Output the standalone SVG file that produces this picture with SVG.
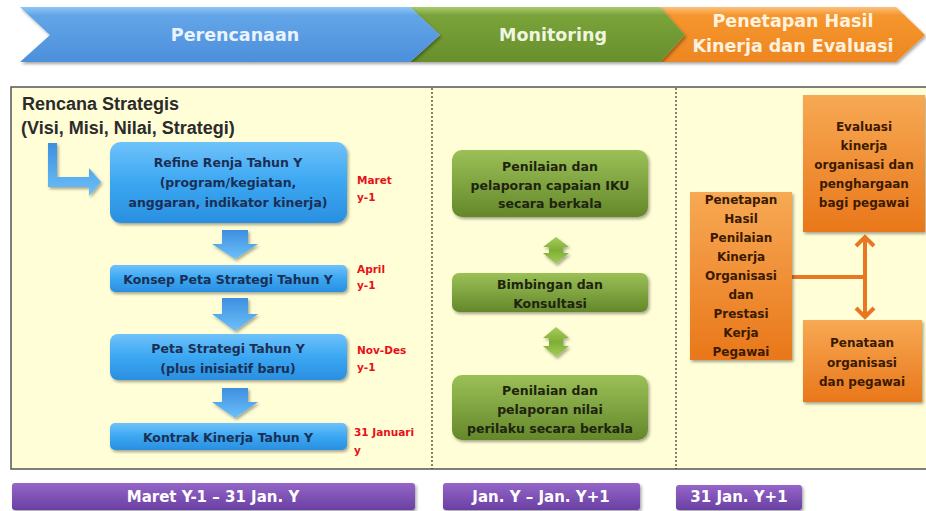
<svg xmlns="http://www.w3.org/2000/svg" width="926" height="511" viewBox="0 0 926 511">
<defs>
<linearGradient id="gBlue" x1="0" y1="0" x2="0" y2="1"><stop offset="0" stop-color="#6FC2FA"/><stop offset="0.5" stop-color="#3BA7F2"/><stop offset="1" stop-color="#2A8FE0"/></linearGradient>
<linearGradient id="gGreen" x1="0" y1="0" x2="0" y2="1"><stop offset="0" stop-color="#9CC057"/><stop offset="1" stop-color="#64882A"/></linearGradient>
<linearGradient id="gOrange" x1="0" y1="0" x2="0" y2="1"><stop offset="0" stop-color="#F7A954"/><stop offset="1" stop-color="#E9771A"/></linearGradient>
<linearGradient id="gPurple" x1="0" y1="0" x2="0" y2="1"><stop offset="0" stop-color="#9466C8"/><stop offset="1" stop-color="#6A3FA3"/></linearGradient>
<linearGradient id="gBanBlue" x1="0" y1="0" x2="0" y2="1"><stop offset="0" stop-color="#8DC6F5"/><stop offset="0.15" stop-color="#62A5E8"/><stop offset="1" stop-color="#4D8FDB"/></linearGradient>
<linearGradient id="gBanGreen" x1="0" y1="0" x2="0" y2="1"><stop offset="0" stop-color="#A9CB6E"/><stop offset="0.15" stop-color="#7AA33A"/><stop offset="1" stop-color="#688F2C"/></linearGradient>
<linearGradient id="gBanOrange" x1="0" y1="0" x2="0" y2="1"><stop offset="0" stop-color="#FBC07A"/><stop offset="0.15" stop-color="#F5962E"/><stop offset="1" stop-color="#EE8620"/></linearGradient>
<linearGradient id="gArrBlue" x1="0" y1="0" x2="0" y2="1"><stop offset="0" stop-color="#3E8FE0"/><stop offset="1" stop-color="#6CC0F8"/></linearGradient>
<linearGradient id="gArrGreen" x1="0" y1="0" x2="0" y2="1"><stop offset="0" stop-color="#A6CC5C"/><stop offset="0.5" stop-color="#7FAE34"/><stop offset="1" stop-color="#A6CC5C"/></linearGradient>
<filter id="sh" x="-10%" y="-10%" width="125%" height="135%"><feDropShadow dx="1.5" dy="2" stdDeviation="1.5" flood-color="#000" flood-opacity="0.35"/></filter>
</defs>
<style>
.t{font-family:"DejaVu Sans",Verdana,sans-serif;font-weight:bold;text-anchor:middle;dominant-baseline:central}
.bt{font-size:12.5px;fill:#1B2F55}
.gt{font-size:12.5px;fill:#1E2410}
.ot{font-size:12px;fill:#3B1A00}
.red{font-family:"DejaVu Sans",Verdana,sans-serif;font-weight:bold;font-size:10.5px;fill:#E8101A;dominant-baseline:central}
.ban{font-size:17.5px}
.pt{font-size:15px;fill:#FFFFFF}
.hd{font-family:"Liberation Sans",Arial,sans-serif;font-weight:bold;font-size:18px;fill:#2B2B2B}
.dash{stroke:#333;stroke-width:1.2;stroke-dasharray:2,2;fill:none}
.ol{stroke:#E87722;stroke-width:4;fill:none}
</style>

<g id="banner">
<path d="M660,7 L896,7 L925,35 L896,62 L660,62 L685,35 Z" fill="url(#gBanOrange)" filter="url(#sh)"/>
<path d="M410,7 L660,7 L685,35 L660,62 L410,62 L440,35 Z" fill="url(#gBanGreen)" filter="url(#sh)"/>
<path d="M20,7 L410,7 L440,35 L410,62 L20,62 L50,35 Z" fill="url(#gBanBlue)" filter="url(#sh)"/>
<text class="t ban" x="235" y="35" fill="#EAF3FF">Perencanaan</text>
<text class="t ban" x="553" y="35" fill="#EEF6E0">Monitoring</text>
<text class="t ban" x="793" y="21" fill="#FFF3E0">Penetapan Hasil</text>
<text class="t ban" x="793" y="46" fill="#FFF3E0">Kinerja dan Evaluasi</text>
</g>

<g id="panel">
<rect x="11" y="87" width="920" height="382" fill="#FFFED6" stroke="#555" stroke-width="1.5"/>
<line class="dash" x1="432" y1="88" x2="432" y2="469"/>
<line class="dash" x1="676" y1="88" x2="676" y2="469"/>
<text class="hd" x="22" y="110">Rencana Strategis</text>
<text class="hd" x="21" y="134" font-size="18.5">(Visi, Misi, Nilai, Strategi)</text>
</g>

<g id="connectors">
<path d="M48,143 H57 V177 H89 V168 L101,182 L89,196 V187 H48 Z" fill="url(#gArrBlue)" filter="url(#sh)"/>
<path d="M222,230 H248 V244 H258 L235,259 L212,244 H222 Z" fill="url(#gArrBlue)" filter="url(#sh)"/>
<path d="M222,298 H248 V314 H258 L235,331 L212,314 H222 Z" fill="url(#gArrBlue)" filter="url(#sh)"/>
<path d="M222,388 H248 V402 H258 L235,418 L212,402 H222 Z" fill="url(#gArrBlue)" filter="url(#sh)"/>
<path d="M556,237 L569,247 H563 V253 H569 L556,264 L543,253 H549 V247 H543 Z" fill="url(#gArrGreen)" filter="url(#sh)"/>
<path d="M556,327 L569,338 H563 V346 H569 L556,357 L543,346 H549 V338 H543 Z" fill="url(#gArrGreen)" filter="url(#sh)"/>
<line class="ol" x1="792" y1="277" x2="865" y2="277"/>
<line class="ol" x1="865" y1="238" x2="865" y2="316"/>
<polyline class="ol" points="856,246 865,237 874,246"/>
<polyline class="ol" points="856,308 865,317 874,308"/>
</g>

<g id="refine">
<rect x="110" y="142" width="237" height="81" rx="11" fill="url(#gBlue)" filter="url(#sh)"/>
<text class="t bt" x="228" y="162">Refine Renja Tahun Y</text>
<text class="t bt" x="228" y="182">(program/kegiatan,</text>
<text class="t bt" x="228" y="202">anggaran, indikator kinerja)</text>
<text class="red" x="357" y="180">Maret</text>
<text class="red" x="357" y="197">y-1</text>
</g>
<g id="konsep">
<rect x="110" y="265" width="237" height="27" rx="5" fill="url(#gBlue)" filter="url(#sh)"/>
<text class="t bt" x="228" y="279">Konsep Peta Strategi Tahun Y</text>
<text class="red" x="357" y="269">April</text>
<text class="red" x="357" y="285">y-1</text>
</g>
<g id="peta">
<rect x="110" y="334" width="237" height="46" rx="8" fill="url(#gBlue)" filter="url(#sh)"/>
<text class="t bt" x="228" y="348">Peta Strategi Tahun Y</text>
<text class="t bt" x="228" y="368">(plus inisiatif baru)</text>
<text class="red" x="357" y="350">Nov-Des</text>
<text class="red" x="357" y="367">y-1</text>
</g>
<g id="kontrak">
<rect x="110" y="423" width="237" height="27" rx="5" fill="url(#gBlue)" filter="url(#sh)"/>
<text class="t bt" x="228" y="437">Kontrak Kinerja Tahun Y</text>
<text class="red" x="354" y="432">31 Januari</text>
<text class="red" x="354" y="450">y</text>
</g>

<g id="iku">
<rect x="452" y="150" width="196" height="67" rx="10" fill="url(#gGreen)" filter="url(#sh)"/>
<text class="t gt" x="550" y="166">Penilaian dan</text>
<text class="t gt" x="550" y="185">pelaporan capaian IKU</text>
<text class="t gt" x="550" y="203">secara berkala</text>
</g>
<g id="bimbingan">
<rect x="452" y="273" width="196" height="39" rx="7" fill="url(#gGreen)" filter="url(#sh)"/>
<text class="t gt" x="550" y="284">Bimbingan dan</text>
<text class="t gt" x="550" y="303">Konsultasi</text>
</g>
<g id="perilaku">
<rect x="452" y="375" width="196" height="65" rx="10" fill="url(#gGreen)" filter="url(#sh)"/>
<text class="t gt" x="550" y="390">Penilaian dan</text>
<text class="t gt" x="550" y="409">pelaporan nilai</text>
<text class="t gt" x="550" y="428">perilaku secara berkala</text>
</g>

<g id="penetapan">
<rect x="690" y="192" width="102" height="168" fill="url(#gOrange)" filter="url(#sh)"/>
<text class="t ot" x="741" y="200">Penetapan</text>
<text class="t ot" x="741" y="219">Hasil</text>
<text class="t ot" x="741" y="238">Penilaian</text>
<text class="t ot" x="741" y="257">Kinerja</text>
<text class="t ot" x="741" y="276">Organisasi</text>
<text class="t ot" x="741" y="295">dan</text>
<text class="t ot" x="741" y="314">Prestasi</text>
<text class="t ot" x="741" y="333">Kerja</text>
<text class="t ot" x="741" y="352">Pegawai</text>
</g>
<g id="evaluasi">
<rect x="803" y="95" width="122" height="137" fill="url(#gOrange)" filter="url(#sh)"/>
<text class="t ot" x="864" y="127">Evaluasi</text>
<text class="t ot" x="864" y="146">kinerja</text>
<text class="t ot" x="864" y="165">organisasi dan</text>
<text class="t ot" x="864" y="184">penghargaan</text>
<text class="t ot" x="864" y="203">bagi pegawai</text>
</g>
<g id="penataan">
<rect x="803" y="320" width="119" height="82" fill="url(#gOrange)" filter="url(#sh)"/>
<text class="t ot" x="862" y="343">Penataan</text>
<text class="t ot" x="862" y="363">organisasi</text>
<text class="t ot" x="862" y="382">dan pegawai</text>
</g>

<g id="period1">
<rect x="12" y="483" width="403" height="27" rx="3" fill="url(#gPurple)" filter="url(#sh)"/>
<text class="t pt" x="213" y="497">Maret Y-1 – 31 Jan. Y</text>
</g>
<g id="period2">
<rect x="443" y="483" width="197" height="27" rx="3" fill="url(#gPurple)" filter="url(#sh)"/>
<text class="t pt" x="541" y="497">Jan. Y – Jan. Y+1</text>
</g>
<g id="period3">
<rect x="676" y="485" width="126" height="25" rx="3" fill="url(#gPurple)" filter="url(#sh)"/>
<text class="t pt" x="739" y="497">31 Jan. Y+1</text>
</g>
</svg>
